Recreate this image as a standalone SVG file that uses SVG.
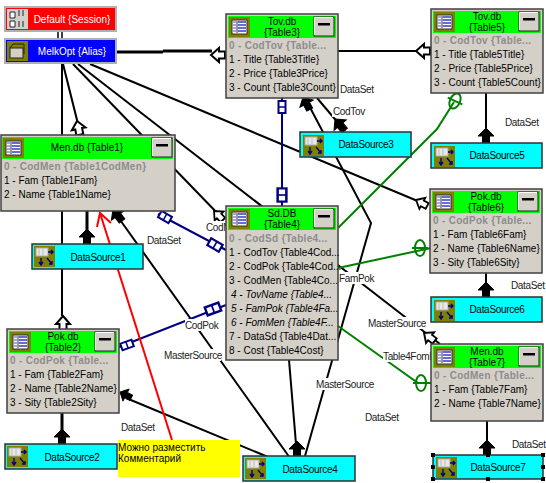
<svg xmlns="http://www.w3.org/2000/svg" width="546" height="483" viewBox="0 0 546 483">
<style>
text{font-family:"Liberation Sans",Arial,sans-serif;font-size:10px;fill:#000}
.c{text-anchor:middle}
.w{fill:#fff}
.b0{font-weight:bold;fill:#8c8c8c;letter-spacing:.3px}
.i{font-style:italic}
.lbl{fill:#222;letter-spacing:-.35px}
.dt{letter-spacing:-.3px}
.k{fill:none;stroke:#000;stroke-width:2}
.k3{fill:none;stroke:#000;stroke-width:3}
.bl{fill:none;stroke:#000080;stroke-width:2}
.gr{fill:none;stroke:#008000;stroke-width:2}
.rd{fill:none;stroke:#ff0000;stroke-width:2}
.pan{fill:#d4d0c8;stroke:#404040;stroke-width:1.5}
.hd{fill:#00ff00}
.ds{fill:#00ffff;stroke:#303030;stroke-width:1.5}
.lab{fill:#fff}
</style>
<defs>
<g id="ha"><path d="M0,0 L7,8 L3.5,8 L3.5,14 L-3.5,14 L-3.5,8 L-7,8Z" fill="#fff" stroke="#000" stroke-width="2"/></g>
<g id="fa"><path d="M0,0 L8,8 L3.5,8 L3.5,15 L-3.5,15 L-3.5,8 L-8,8Z" fill="#000" stroke="#000"/></g>
<g id="bg"><rect x="-3.5" y="-6" width="7" height="12" fill="#fff" stroke="#000080" stroke-width="2"/><path d="M-3.5,0H3.5" stroke="#000080" stroke-width="1.5"/></g>
<g id="ge"><ellipse rx="5" ry="8" fill="none" stroke="#008000" stroke-width="2"/><path d="M-8,0H8" stroke="#008000" stroke-width="2"/></g>
<g id="tic"><rect width="21" height="20" fill="#808000"/><rect x="3" y="3" width="15" height="14" fill="#fff" stroke="#333"/><path d="M8,4V16" stroke="#333"/><path d="M9,5H17M9,8H17M9,11H17M9,14H17" stroke="#3a3ac8" stroke-width="1.6"/><path d="M4,5H7M4,8H7M4,11H7M4,14H7" stroke="#8888dd" stroke-width="1.6"/></g>
<g id="btn"><rect width="20" height="19" fill="#d4d0c8" stroke="#222"/><path d="M.5,18V.5H19" stroke="#fff" fill="none"/><rect x="4" y="6" width="12" height="2.5" fill="#000"/></g>
<g id="dic"><rect width="21" height="21" fill="#808000"/><rect x="2" y="2" width="12" height="8" fill="#e8e8e8" stroke="#aaa"/><path d="M5,3V9M9,3V9" stroke="#bbb"/><path d="M14,6H19M17,4L19,6L17,8" stroke="#000080" fill="none" stroke-width="1.4"/><path d="M7,12V18M5,16L7,19L9,16" stroke="#000080" fill="none" stroke-width="1.4"/><path d="M13,12L18,18M15,18H18V15" stroke="#000080" fill="none" stroke-width="1.4"/></g>
</defs>

<g id="connectors">
<path class="k" d="M58,31V39M62,31V39" style="stroke-width:1.5"/>
<path class="k3" d="M116,52H163M163,51H212"/>
<path class="k" d="M338,51H416"/>
<use href="#ha" transform="translate(211,55) rotate(-90)"/>
<use href="#ha" transform="translate(416,51) rotate(-90)"/>
<path class="k" d="M62,64V244M62,269V316"/>
<path class="k" d="M63,64L78,124"/>
<use href="#ha" transform="translate(77,121) rotate(-12)"/>
<use href="#ha" transform="translate(63,316)"/>
<path class="k" d="M73,64L222,218"/>
<use href="#ha" transform="translate(214,211) rotate(-45) scale(.9)"/>
<path class="k" d="M78,64L440,344"/>
<use href="#ha" transform="translate(424,333) rotate(-53) scale(.95)"/>
<path class="k" d="M90,64L420,202"/>
<use href="#ha" transform="translate(416,200) rotate(-62) scale(.9)"/>
<path class="k" d="M118,217L290,458"/>
<use href="#fa" transform="translate(113,209) rotate(-37)"/>
<path class="k" d="M305,98L371,223L305,456"/>
<use href="#fa" transform="translate(303,97) rotate(-28) scale(.95)"/>
<path class="k" d="M317,98L345,131"/>
<use href="#fa" transform="translate(335,119) rotate(-40)"/>
<path class="k" d="M289,360L297,456"/>
<use href="#fa" transform="translate(297,441)"/>
<path class="k" d="M126,398L268,457"/>
<use href="#fa" transform="translate(120,392) rotate(-63) scale(.85)"/>
<path class="k3" d="M62,413V444"/><use href="#fa" transform="translate(62,429)"/>
<path class="k3" d="M87,211V244"/><use href="#fa" transform="translate(87,229)"/>
<path class="k" d="M486,93V143"/><use href="#fa" transform="translate(486,128)"/>
<path class="k" d="M486,273V297"/><use href="#fa" transform="translate(486,282)"/>
<path class="k" d="M487,421V455"/><use href="#fa" transform="translate(487,440)"/>
<path class="bl" d="M282,98V206"/>
<use href="#bg" transform="translate(282,107)"/>
<use href="#bg" transform="translate(282,195) scale(1.25,1.1)"/>
<path class="bl" d="M158,214L226,250"/>
<use href="#bg" transform="translate(165,217) rotate(-60)"/>
<use href="#bg" transform="translate(215,245) rotate(-60) scale(1.1)"/>
<path class="bl" d="M119,347L226,305"/>
<use href="#bg" transform="translate(127,345) rotate(70)"/>
<use href="#bg" transform="translate(213,309) rotate(70) scale(1.2)"/>
<path class="gr" d="M338,228L437,129L454,102"/>
<use href="#ge" transform="translate(455,101) rotate(25)"/>
<path class="gr" d="M338,268L431,248"/>
<use href="#ge" transform="translate(420,248)"/>
<path class="gr" d="M338,326L418,383H431"/>
<use href="#ge" transform="translate(421,383)"/>
<path class="rd" d="M100,213L172,440"/>
<path class="rd" d="M97,227L100,213L111,223"/>
<g>
<rect class="lab" x="146" y="235" width="37" height="12"/><text class="lbl" x="147" y="244">DataSet</text>
<rect class="lab" x="205" y="221" width="30" height="12"/><text class="lbl" x="206" y="231">CodMen</text>
<rect class="lab" x="185" y="319" width="34" height="12"/><text class="lbl" x="185" y="329">CodPok</text>
<rect class="lab" x="163" y="349" width="58" height="12"/><text class="lbl" x="164" y="359">MasterSource</text>
<rect class="lab" x="316" y="378" width="58" height="12"/><text class="lbl" x="316" y="388">MasterSource</text>
<rect class="lab" x="368" y="317" width="58" height="12"/><text class="lbl" x="368" y="327">MasterSource</text>
<rect class="lab" x="338" y="272" width="35" height="12"/><text class="lbl" x="339" y="282">FamPok</text>
<rect class="lab" x="383" y="350" width="60" height="12"/><text class="lbl" x="383" y="360">Table4FomMen</text>
<rect class="lab" x="332" y="105" width="34" height="12"/><text class="lbl" x="333" y="115">CodTov</text>
<text class="lbl" x="340" y="93">DataSet</text>
<text class="lbl" x="505" y="126">DataSet</text>
<text class="lbl" x="511" y="289">DataSet</text>
<text class="lbl" x="512" y="448">DataSet</text>
<text class="lbl" x="365" y="421">DataSet</text>
<text class="lbl" x="121" y="431">DataSet</text>
</g>
</g>

<g id="note"><rect x="118" y="440" width="122" height="37" fill="#ffff00"/><text x="118" y="451">Можно разместить</text><text x="118" y="462">Комментарий</text></g>

<g id="default-session"><rect x="5" y="7" width="111" height="24" fill="#ff0000" stroke="#b0b0b0" stroke-width="2"/><rect x="7" y="9" width="21" height="20" fill="#d4d0c8"/><path d="M10,12h5v6h-5zM10,21h5v6h-5zM19,10v6M23,10v6M23,21v6M19,21v6" stroke="#223" fill="#fff"/><text class="c w" x="72" y="23">Default {Session}</text></g>
<g id="melkopt-alias"><rect x="5" y="39" width="111" height="24" fill="#0000ff" stroke="#b0b0b0" stroke-width="2"/><rect x="7" y="41" width="21" height="20" fill="#808000"/><rect x="10" y="48" width="13" height="10" fill="#d4d0c8" stroke="#222"/><path d="M13,44h11v10M10,48l3,-4" stroke="#222" fill="none"/><text class="c w" x="72" y="55">MelkOpt {Alias}</text></g>

<g id="table3" transform="translate(226,14)"><rect class="pan" width="112" height="84"/><rect class="hd" x="2" y="2" width="108" height="22"/><use href="#tic" x="3" y="3"/><use href="#btn" x="88" y="3"/><text class="c" x="56" y="11">Tov.db</text><text class="c" x="56" y="22">{Table3}</text><text class="b0" x="3" y="35">0 - CodTov {Table...</text><text x="3" y="49">1 - Title {Table3Title}</text><text x="3" y="63">2 - Price {Table3Price}</text><text x="3" y="77">3 - Count {Table3Count}</text></g>

<g id="table5" transform="translate(431,9)"><rect class="pan" width="112" height="84"/><rect class="hd" x="2" y="2" width="108" height="22"/><use href="#tic" x="3" y="3"/><use href="#btn" x="88" y="3"/><text class="c" x="56" y="11">Tov.db</text><text class="c" x="56" y="22">{Table5}</text><text class="b0" x="3" y="35">0 - CodTov {Table...</text><text x="3" y="49">1 - Title {Table5Title}</text><text x="3" y="63">2 - Price {Table5Price}</text><text x="3" y="77">3 - Count {Table5Count}</text></g>

<g id="table1" transform="translate(0,135)"><rect class="pan" x="1" width="174" height="76"/><rect class="hd" x="2" y="2" width="171" height="22"/><use href="#tic" x="3" y="3"/><use href="#btn" x="152" y="3"/><text class="c" x="87" y="16">Men.db {Table1}</text><text class="b0" x="4" y="35">0 - CodMen {Table1CodMen}</text><text x="4" y="49">1 - Fam {Table1Fam}</text><text x="4" y="63">2 - Name {Table1Name}</text></g>

<g id="table4" transform="translate(226,206)"><rect class="pan" width="112" height="154"/><rect class="hd" x="2" y="2" width="108" height="22"/><use href="#tic" x="3" y="3"/><use href="#btn" x="88" y="3"/><text class="c" x="56" y="11">Sd.DB</text><text class="c" x="56" y="22">{Table4}</text><text class="b0" x="3" y="36">0 - CodSd {Table4...</text><text x="3" y="50">1 - CodTov {Table4Cod...</text><text x="3" y="64">2 - CodPok {Table4Cod...</text><text x="3" y="78">3 - CodMen {Table4Co...</text><text class="i" x="5" y="92">4 - TovName {Table4...</text><text class="i" x="5" y="106">5 - FamPok {Table4Fa...</text><text class="i" x="5" y="120">6 - FomMen {Table4F...</text><text x="3" y="134">7 - DataSd {Table4Dat...</text><text x="3" y="148">8 - Cost {Table4Cost}</text></g>

<g id="table6" transform="translate(430,189)"><rect class="pan" width="112" height="84"/><rect class="hd" x="2" y="2" width="108" height="22"/><use href="#tic" x="3" y="3"/><use href="#btn" x="88" y="3"/><text class="c" x="56" y="11">Pok.db</text><text class="c" x="56" y="22">{Table6}</text><text class="b0" x="3" y="35">0 - CodPok {Table...</text><text x="3" y="49">1 - Fam {Table6Fam}</text><text x="3" y="63">2 - Name {Table6Name}</text><text x="3" y="77">3 - Sity {Table6Sity}</text></g>

<g id="table7" transform="translate(431,344)"><rect class="pan" width="112" height="77"/><rect class="hd" x="2" y="2" width="108" height="22"/><use href="#tic" x="3" y="3"/><use href="#btn" x="88" y="3"/><text class="c" x="56" y="11">Men.db</text><text class="c" x="56" y="22">{Table7}</text><text class="b0" x="3" y="35">0 - CodMen {Table...</text><text x="3" y="49">1 - Fam {Table7Fam}</text><text x="3" y="63">2 - Name {Table7Name}</text></g>

<g id="table2" transform="translate(7,329)"><rect class="pan" width="112" height="84"/><rect class="hd" x="2" y="2" width="108" height="22"/><use href="#tic" x="3" y="3"/><use href="#btn" x="88" y="3"/><text class="c" x="56" y="11">Pok.db</text><text class="c" x="56" y="22">{Table2}</text><text class="b0" x="3" y="35">0 - CodPok {Table...</text><text x="3" y="49">1 - Fam {Table2Fam}</text><text x="3" y="63">2 - Name {Table2Name}</text><text x="3" y="77">3 - Sity {Table2Sity}</text></g>

<g id="datasource1" transform="translate(32,244)"><rect class="ds" width="111" height="25"/><use href="#dic" x="2" y="2"/><text class="c dt" x="66" y="17">DataSource1</text></g>
<g id="datasource2" transform="translate(5,444)"><rect class="ds" width="112" height="25"/><use href="#dic" x="2" y="2"/><text class="c dt" x="67" y="17">DataSource2</text></g>
<g id="datasource3" transform="translate(300,132)"><rect class="ds" width="111" height="25"/><use href="#dic" x="3" y="3"/><text class="c dt" x="66" y="16">DataSource3</text></g>
<g id="datasource4" transform="translate(243,456)"><rect class="ds" width="112" height="25"/><use href="#dic" x="2" y="2"/><text class="c dt" x="67" y="17">DataSource4</text></g>
<g id="datasource5" transform="translate(431,143)"><rect class="ds" width="111" height="25"/><use href="#dic" x="3" y="3"/><text class="c dt" x="66" y="16">DataSource5</text></g>
<g id="datasource6" transform="translate(431,297)"><rect class="ds" width="111" height="25"/><use href="#dic" x="3" y="3"/><text class="c dt" x="66" y="16">DataSource6</text></g>
<g id="datasource7" transform="translate(433,455)"><rect class="ds" width="110" height="24"/><use href="#dic" x="3" y="2"/><text class="c dt" x="65" y="16">DataSource7</text><path d="M-2,-2h4v4h-4zM53,-2h4v4h-4zM108,-2h4v4h-4zM-2,10h4v4h-4zM108,10h4v4h-4zM-2,22h4v4h-4zM53,22h4v4h-4zM108,22h4v4h-4z" fill="#000"/></g>
</svg>
